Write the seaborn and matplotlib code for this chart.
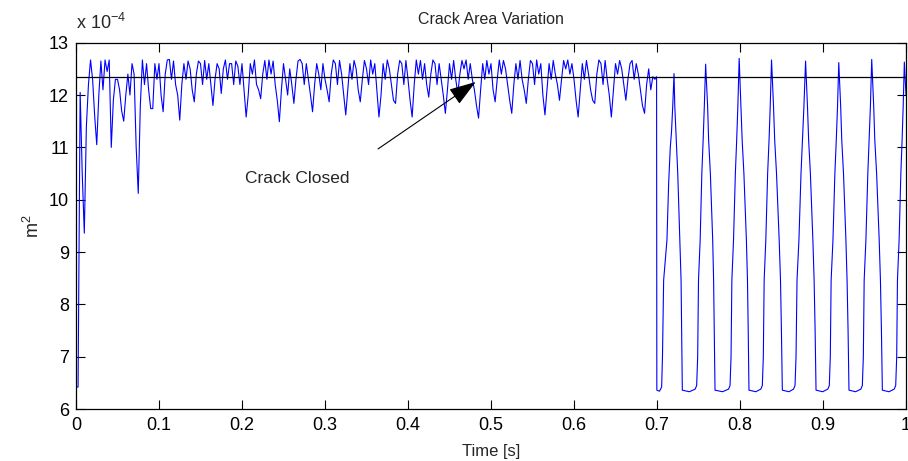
import numpy as np
import pandas as pd
import matplotlib
matplotlib.use("Agg")
import matplotlib.pyplot as plt
import seaborn as sns

# ---------------- data (area in units of 1e-4 m^2) ----------------
# phase 1: crack breathing, sampled every 0.0025 s from t = 0
sample_step = 0.0025
area_open = [
    6.42, 6.42, 12.05, 10.5, 9.36, 11.4, 12.2, 12.67,
    12.3, 11.6, 11.05, 12.0, 12.65, 12.1, 12.67, 12.45,
    12.67, 11.0, 11.9, 12.3, 12.3, 12.1, 11.7, 11.5,
    12.0, 12.4, 12.0, 12.6, 12.4, 11.0, 10.12, 11.8,
    12.67, 12.2, 12.6, 12.1, 11.74, 11.74, 12.6, 12.3,
    12.6, 12.0, 11.68, 12.4, 12.67, 12.68, 12.3, 12.65,
    12.2, 12.0, 11.52, 12.2, 12.6, 12.3, 12.65, 12.5,
    12.1, 11.87, 12.4, 12.65, 12.6, 12.2, 12.66, 12.3,
    12.6, 12.2, 11.8, 12.3, 12.6, 12.5, 12.03, 12.5,
    12.67, 12.3, 12.6, 12.6, 12.2, 12.65, 12.55, 12.2,
    12.6, 12.1, 11.58, 12.0, 12.6, 12.4, 12.67, 12.2,
    12.1, 11.93, 12.4, 12.66, 12.3, 12.67, 12.4, 12.65,
    12.2, 11.9, 11.49, 12.1, 12.6, 12.3, 12.0, 12.5,
    12.2, 11.84, 12.3, 12.65, 12.68, 12.6, 12.2, 12.6,
    12.3, 12.0, 11.68, 12.2, 12.6, 12.4, 12.1, 12.6,
    12.3, 12.1, 11.87, 12.4, 12.67, 12.6, 12.2, 12.66,
    12.4, 12.0, 11.62, 12.1, 12.6, 12.3, 12.66, 12.5,
    12.1, 11.87, 12.3, 12.66, 12.5, 12.2, 12.67, 12.4,
    12.6, 12.1, 11.58, 12.0, 12.6, 12.3, 12.67, 12.5,
    12.2, 11.9, 11.84, 12.4, 12.66, 12.6, 12.2, 12.66,
    12.3, 11.9, 11.58, 12.2, 12.67, 12.4, 12.66, 12.3,
    12.6, 12.2, 11.96, 12.4, 12.67, 12.6, 12.2, 12.6,
    12.3, 12.0, 11.65, 12.1, 12.6, 12.3, 12.66, 12.3,
    12.03, 12.4, 12.66, 12.5, 12.67, 12.3, 12.6, 12.3,
    12.1, 11.8, 11.56, 12.1, 12.6, 12.3, 12.66, 12.4,
    12.6, 12.1, 11.87, 12.3, 12.67, 12.4, 12.66, 12.5,
    12.2, 11.9, 11.65, 12.2, 12.6, 12.3, 12.66, 12.3,
    12.1, 11.84, 12.3, 12.66, 12.6, 12.2, 12.67, 12.4,
    12.6, 12.0, 11.62, 12.1, 12.6, 12.3, 12.66, 12.4,
    12.2, 11.9, 12.3, 12.66, 12.5, 12.67, 12.4, 12.6,
    12.3, 11.9, 11.58, 12.1, 12.6, 12.3, 12.66, 12.4,
    12.1, 11.9, 11.84, 12.4, 12.67, 12.6, 12.2, 12.66,
    12.3, 12.0, 11.58, 12.1, 12.6, 12.4, 12.66, 12.5,
    12.2, 11.9, 12.3, 12.6, 12.66, 12.3, 12.6, 12.4,
    12.1, 11.8, 11.65, 12.2, 12.5, 12.1, 12.35, 12.3,
]

# phase 2: large periodic variation (vertices)
time_osc = [
    0.6995, 0.6998, 0.7030, 0.7056, 0.7066, 0.7080, 0.7120, 0.7140, 0.7160, 0.7175, 0.7190, 0.7205,
    0.7214, 0.7232, 0.7250, 0.7275, 0.7290, 0.7297, 0.7305, 0.7390, 0.7460, 0.7478,
    0.7490, 0.7500, 0.7520, 0.7540, 0.7556, 0.7570, 0.7586,
    0.7610, 0.7622, 0.7643, 0.7671, 0.7682, 0.7690, 0.7699, 0.7790, 0.7862, 0.7880,
    0.7892, 0.7902, 0.7922, 0.7944, 0.7960, 0.7974, 0.7990,
    0.8012, 0.8026, 0.8047, 0.8077, 0.8090, 0.8099, 0.8108, 0.8190, 0.8251, 0.8269,
    0.8281, 0.8291, 0.8311, 0.8333, 0.8350, 0.8364, 0.8380,
    0.8404, 0.8418, 0.8440, 0.8472, 0.8488, 0.8499, 0.8510, 0.8590, 0.8645, 0.8663,
    0.8675, 0.8687, 0.8710, 0.8735, 0.8752, 0.8770, 0.8790,
    0.8813, 0.8827, 0.8848, 0.8878, 0.8893, 0.8905, 0.8916, 0.8996, 0.9058, 0.9076,
    0.9088, 0.9098, 0.9120, 0.9143, 0.9160, 0.9175, 0.9190,
    0.9213, 0.9226, 0.9247, 0.9276, 0.9290, 0.9302, 0.9313, 0.9393, 0.9456, 0.9474,
    0.9486, 0.9496, 0.9517, 0.9540, 0.9556, 0.9571, 0.9587,
    0.9611, 0.9624, 0.9646, 0.9677, 0.9692, 0.9704, 0.9715, 0.9795, 0.9858, 0.9876,
    0.9888, 0.9897, 0.9917, 0.9938, 0.9953, 0.9966, 0.9980, 1.0000,
]
area_osc = [
    12.35, 6.36, 6.34, 6.42, 7.0, 8.46, 9.23, 10.3, 11.0, 11.3, 11.8, 12.41,
    11.8, 11.14, 10.5, 9.23, 8.46, 7.5, 6.36, 6.33, 6.38, 6.45,
    7.0, 8.46, 9.23, 10.5, 11.14, 11.78, 12.59,
    11.78, 11.14, 10.5, 9.23, 8.46, 7.5, 6.36, 6.33, 6.38, 6.45,
    7.0, 8.46, 9.23, 10.5, 11.14, 11.78, 12.70,
    11.78, 11.14, 10.5, 9.23, 8.46, 7.5, 6.36, 6.33, 6.38, 6.45,
    7.0, 8.46, 9.23, 10.5, 11.14, 11.78, 12.67,
    11.78, 11.14, 10.5, 9.23, 8.46, 7.5, 6.36, 6.33, 6.38, 6.45,
    7.0, 8.46, 9.23, 10.5, 11.14, 11.78, 12.65,
    11.78, 11.14, 10.5, 9.23, 8.46, 7.5, 6.36, 6.33, 6.38, 6.45,
    7.0, 8.46, 9.23, 10.5, 11.14, 11.78, 12.62,
    11.78, 11.14, 10.5, 9.23, 8.46, 7.5, 6.36, 6.33, 6.38, 6.45,
    7.0, 8.46, 9.23, 10.5, 11.14, 11.78, 12.68,
    11.78, 11.14, 10.5, 9.23, 8.46, 7.5, 6.36, 6.33, 6.38, 6.45,
    7.0, 8.46, 9.23, 10.5, 11.14, 11.78, 12.63, 12.0,
]

closed_level = 12.35            # horizontal reference line (crack closed)
x_ticks = [0, 0.1, 0.2, 0.3, 0.4, 0.5, 0.6, 0.7, 0.8, 0.9, 1]
x_ticklabels = ["0", "0.1", "0.2", "0.3", "0.4", "0.5", "0.6", "0.7", "0.8", "0.9", "1"]
y_ticks = [6, 7, 8, 9, 10, 11, 12, 13]
y_ticklabels = ["6", "7", "8", "9", "10", "11", "12", "13"]

annot_text = "Crack Closed"
annot_text_pos = (0.266, 10.41)
annot_tail = (0.3639, 10.97)
annot_head = (0.4816, 12.25)

# ---------------- build table ----------------
time_open = [round(i * sample_step, 4) for i in range(len(area_open))]
df = pd.DataFrame({
    "t": time_open + time_osc,
    "area": area_open + area_osc,
})

# ---------------- style ----------------
sns.set_theme(style="white")
plt.rcParams["font.family"] = ["Liberation Sans", "DejaVu Sans"]
plt.rcParams["mathtext.fontset"] = "custom"
plt.rcParams["mathtext.rm"] = "Liberation Sans"
plt.rcParams["mathtext.it"] = "Liberation Sans"
plt.rcParams["mathtext.default"] = "regular"

fig = plt.figure(figsize=(9.08, 4.61), dpi=100)
fig.patch.set_facecolor("white")
ax = fig.add_axes([76 / 908, 1 - 409 / 461, 830 / 908, (409 - 42.7) / 461])

sns.lineplot(data=df, x="t", y="area", estimator=None, sort=False,
             color="#0000ff", linewidth=0.8, ax=ax, legend=False)
ax.axhline(closed_level, color="black", linewidth=0.9)

ax.set_xlim(0, 1)
ax.set_ylim(6, 13)
ax.set_xticks(x_ticks)
ax.set_xticklabels(x_ticklabels)
ax.set_yticks(y_ticks)
ax.set_yticklabels(y_ticklabels)

for s in ax.spines.values():
    s.set_visible(True)
    s.set_color("black")
    s.set_linewidth(0.9)

ax.tick_params(axis="both", which="major", direction="in", length=6.2, width=0.8,
               colors="black", labelsize=13, top=True, right=True,
               bottom=True, left=True)
ax.tick_params(axis="x", pad=6)
ax.tick_params(axis="y", pad=5)

ax.set_xlabel("Time [s]", fontsize=12, labelpad=7)
ax.set_ylabel("m$^2$", fontsize=13, labelpad=4)

ax.text(0.5, 1 + 23 / 366.3, "Crack Area Variation", transform=ax.transAxes,
        ha="center", va="center", fontsize=11.5)
ax.text(0.0, 1 + 20 / 366.3, "x 10$^{-4}$", transform=ax.transAxes,
        ha="left", va="center", fontsize=13)

ax.annotate("", xy=annot_head, xytext=annot_tail,
            arrowprops=dict(arrowstyle="-|>,head_length=1.2,head_width=0.4",
                            color="black", lw=0.8, mutation_scale=14,
                            shrinkA=0, shrinkB=0))
ax.text(annot_text_pos[0], annot_text_pos[1], annot_text, ha="center",
        va="center", fontsize=12.5)

ax.grid(False)
fig.savefig("out.png", dpi=100, facecolor="white")
